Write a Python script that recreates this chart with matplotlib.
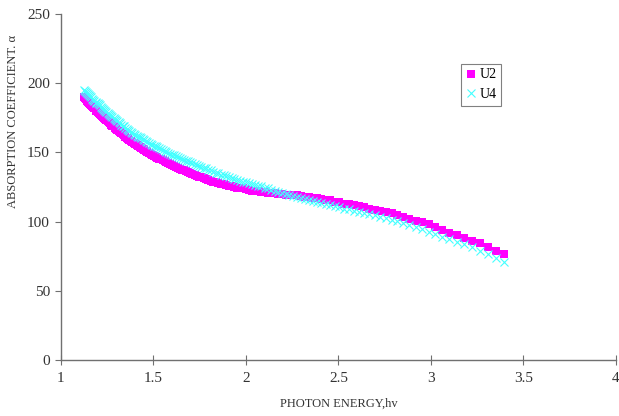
import matplotlib
matplotlib.use("Agg")
import matplotlib.pyplot as plt

# photon energy (eV), shared by both samples
energy = [1.127, 1.138, 1.148, 1.159, 1.170, 1.181, 1.192, 1.204, 1.216, 1.228,
          1.240, 1.253, 1.265, 1.278, 1.292, 1.305, 1.319, 1.333, 1.348, 1.363,
          1.378, 1.393, 1.409, 1.425, 1.442, 1.459, 1.476, 1.494, 1.512, 1.531,
          1.550, 1.570, 1.590, 1.610, 1.632, 1.653, 1.676, 1.699, 1.722, 1.746,
          1.771, 1.784, 1.797, 1.810, 1.824, 1.837, 1.851, 1.865, 1.879, 1.893,
          1.908, 1.922, 1.938, 1.953, 1.968, 1.984, 2.000, 2.016, 2.033, 2.050,
          2.067, 2.084, 2.102, 2.120, 2.138, 2.157, 2.175, 2.195, 2.214, 2.234,
          2.255, 2.275, 2.296, 2.318, 2.340, 2.362, 2.385, 2.408, 2.431, 2.455,
          2.480, 2.505, 2.531, 2.557, 2.583, 2.611, 2.638, 2.667, 2.696, 2.725,
          2.756, 2.787, 2.818, 2.851, 2.884, 2.918, 2.952, 2.988, 3.024, 3.062,
          3.100, 3.139, 3.179, 3.221, 3.263, 3.307, 3.351, 3.397]

u2 = [190, 188.5, 186.5, 185, 183.5, 182, 180, 178.5, 177, 175.5,
      174, 172.5, 171, 169.5, 168, 166.5, 165, 163.5, 161.5, 160,
      158.5, 156.5, 155.5, 154, 152.5, 151, 149.5, 148.5, 147, 145.5,
      144.5, 143, 141.5, 140.5, 139, 137.5, 136.5, 135, 134, 132.5,
      131.5, 131, 130, 129.5, 129, 128.5, 128, 127.5, 127, 126.5,
      126, 125.5, 125, 124.5, 124, 124, 123.5, 123, 122.5, 122.5,
      122, 121.5, 121.5, 121, 121, 120.5, 120, 120, 119.5, 119.5,
      119, 119, 118.5, 118, 117.5, 117, 117, 116.5, 116, 115.5,
      114.5, 114, 113, 112.5, 112, 111, 110.5, 109.5, 108.5, 107.5,
      107, 106, 105, 103.5, 102, 100.5, 99.5, 98, 96, 94,
      92, 90.3, 88.2, 86.2, 84.3, 81.4, 79, 76.5]

u4 = [195, 193.5, 192, 190.5, 189, 187.5, 186, 185, 183, 181.5,
      180, 178.5, 177, 175.5, 174, 172.5, 171, 169.5, 168, 166.5,
      165, 163.5, 162, 161, 159.5, 158, 157, 155.5, 154.5, 153,
      151.5, 150, 149, 148, 146.5, 145.5, 144, 143, 141.5, 140,
      139, 138.5, 137.5, 137, 136, 135.5, 135, 134, 133.5, 133,
      132, 131.5, 131, 130, 129.5, 129, 128.5, 128, 127.5, 126.5,
      126, 125.5, 124.5, 124, 123, 122.5, 121.5, 121, 120, 119.5,
      118.5, 118, 117, 116.5, 115.5, 115, 114, 113.5, 112.5, 112,
      111, 110.5, 109.5, 109, 108, 107, 106.5, 105.5, 104.5, 103.5,
      102.5, 101.5, 100.5, 99, 97.5, 96, 94.5, 92.5, 91, 89,
      87.5, 85.5, 83.5, 81.5, 79, 76.5, 73.5, 70.5]

# extra readings in the dense low-energy part of the scan
energy_lo = [1.132, 1.143, 1.153, 1.164, 1.175, 1.187, 1.198, 1.210, 1.222, 1.234,
             1.246, 1.259, 1.272, 1.285, 1.298, 1.312, 1.326, 1.341, 1.355, 1.370,
             1.385, 1.401, 1.417, 1.434, 1.450, 1.467, 1.485, 1.503, 1.521, 1.540,
             1.560, 1.580, 1.600, 1.621, 1.642, 1.664, 1.687, 1.710, 1.734, 1.759]

u2_lo = [189.2, 187.5, 185.8, 184.2, 182.8, 181, 179.2, 177.8, 176.2, 174.8,
         173.2, 171.8, 170.2, 168.8, 167.2, 165.8, 164.2, 162.5, 160.8, 159.2,
         157.5, 156, 154.8, 153.2, 151.8, 150.2, 149, 147.8, 146.2, 145,
         143.8, 142.2, 141, 139.8, 138.2, 137, 135.8, 134.5, 133.2, 132]

u4_lo = [194.2, 192.8, 191.2, 189.8, 188.2, 186.8, 185.5, 184, 182.2, 180.8,
         179.2, 177.8, 176.2, 174.8, 173.2, 171.8, 170.2, 168.8, 167.2, 165.8,
         164.2, 162.8, 161.5, 160.2, 158.8, 157.5, 156.2, 155, 153.8, 152.2,
         150.8, 149.5, 148.5, 147.2, 146, 144.8, 143.5, 142.2, 140.8, 139.5]

x_ticks = [1, 1.5, 2, 2.5, 3, 3.5, 4]
x_ticklabels = ['1', '1.5', '2', '2.5', '3', '3.5', '4']
y_ticks = [0, 50, 100, 150, 200, 250]

plt.rcParams['font.family'] = ['Liberation Serif', 'DejaVu Serif']

fig = plt.figure(figsize=(6.19, 4.16), dpi=100)
ax = fig.add_axes([0.0985, 0.1346, 0.8965, 0.8314])

ax.plot(energy_lo + energy, u2_lo + u2, linestyle='none', marker='s',
        markersize=5.3, color='#ff00ff', markeredgewidth=0, label='U2')
ax.plot(energy_lo + energy, u4_lo + u4, linestyle='none', marker='x',
        markersize=6.3, color='#44ffff', markeredgewidth=0.8, label='U4')

ax.set_xlim(1, 4)
ax.set_ylim(0, 250)
ax.set_xticks(x_ticks)
ax.set_xticklabels(x_ticklabels)
ax.set_yticks(y_ticks)

for side in ['top', 'right']:
    ax.spines[side].set_visible(False)
for side in ['left', 'bottom']:
    ax.spines[side].set_color('#707070')
    ax.spines[side].set_linewidth(1.0)

ax.tick_params(axis='x', direction='inout', length=7, color='#707070',
               labelsize=11, labelcolor='#333333', pad=5)
ax.tick_params(axis='y', direction='out', length=4, color='#707070',
               labelsize=11, labelcolor='#333333', pad=4)

ax.set_xlabel('PHOTON ENERGY,hv', fontsize=9, color='#333333', labelpad=9)
ax.set_ylabel('ABSORPTION COEFFICIENT. α', fontsize=9, color='#333333')
ax.yaxis.set_label_coords(-0.075, 0.69)

leg = ax.legend(loc='upper left', bbox_to_anchor=(0.72, 0.857), numpoints=1,
                handlelength=0.8, handletextpad=0.2, borderpad=0.35,
                labelspacing=0.45, fontsize=10, fancybox=False, framealpha=1,
                borderaxespad=0)
leg.get_frame().set_edgecolor('#808080')
leg.get_frame().set_linewidth(0.8)

fig.savefig('out.png', dpi=100)
